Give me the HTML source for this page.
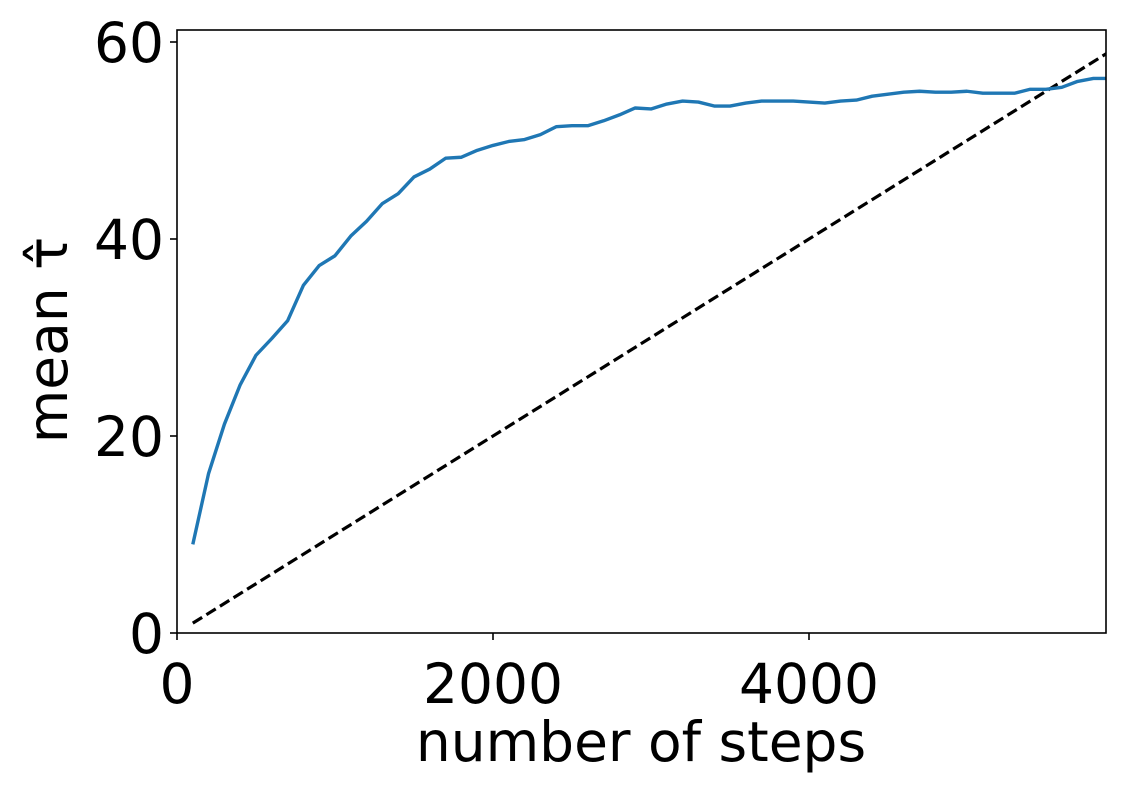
<!DOCTYPE html>
<html><head><meta charset="utf-8"><style>
body{margin:0;background:#fff;}
svg text{font-family:"DejaVu Sans","Liberation Sans",sans-serif;fill:#000;}
</style></head><body>
<svg width="1129" height="793">
<defs><clipPath id="c"><rect x="177" y="30" width="929" height="603"/></clipPath></defs>
<g id="marks" clip-path="url(#c)"></g>
<rect x="177" y="30" width="929" height="603" fill="none" stroke="#000" stroke-width="1.6"/>
<g id="axes"></g>
<text x="641" y="761" font-size="55" text-anchor="middle">number of steps</text>
<text transform="translate(67,340) rotate(-90)" font-size="55" text-anchor="middle">mean τ̂</text>
</svg>
<script>
const steps=[100,200,300,400,500,600,700,800,900,1000,1100,1200,1300,1400,1500,1600,1700,1800,1900,2000,2100,2200,2300,2400,2500,2600,2700,2800,2900,3000,3100,3200,3300,3400,3500,3600,3700,3800,3900,4000,4100,4200,4300,4400,4500,4600,4700,4800,4900,5000,5100,5200,5300,5400,5500,5600,5700,5800,5900];
const meanTau=[9,16.2,21.2,25.2,28.2,29.9,31.7,35.3,37.3,38.3,40.3,41.8,43.6,44.6,46.3,47.1,48.2,48.3,49,49.5,49.9,50.1,50.6,51.4,51.5,51.5,52,52.6,53.3,53.2,53.7,54,53.9,53.5,53.5,53.8,54,54,54,53.9,53.8,54,54.1,54.5,54.7,54.9,55,54.9,54.9,55,54.8,54.8,54.8,55.2,55.2,55.4,56,56.3,56.3];
const refLine=[[100,1],[5900,59]];
const xTicks=[0,2000,4000];
const yTicks=[0,20,40,60];
const X=v=>177+v*0.158, Y=v=>633-v*9.85;
const NS="http://www.w3.org/2000/svg";
const marks=document.getElementById('marks'), axes=document.getElementById('axes');
function mk(t,a,p){const e=document.createElementNS(NS,t);for(const k in a)e.setAttribute(k,a[k]);p.appendChild(e);return e;}
const d=mk('path',{d:'M'+refLine.map(p=>X(p[0])+','+Y(p[1])).join('L'),fill:'none',stroke:'#000','stroke-width':3.2,'stroke-dasharray':'11,5'},marks);


const l=mk('path',{d:'M'+steps.map((s,i)=>X(s)+','+Y(meanTau[i])).join('L'),fill:'none',stroke:'#1f77b4','stroke-width':3.4,'stroke-linejoin':'round'},marks);


xTicks.forEach(v=>{const x=X(v);
 const t=mk('line',{x1:x,x2:x,y1:633,y2:640,stroke:'#000','stroke-width':1.6},axes);
 
 const s=mk('text',{x:x,y:703,'font-size':55,'text-anchor':'middle'},axes);s.textContent=v;
 });
yTicks.forEach(v=>{const y=Y(v);
 const t=mk('line',{x1:170,x2:177,y1:y,y2:y,stroke:'#000','stroke-width':1.6},axes);
 
 const s=mk('text',{x:164,y:y+20,'font-size':55,'text-anchor':'end'},axes);s.textContent=v;
 });
</script>
</body></html>
